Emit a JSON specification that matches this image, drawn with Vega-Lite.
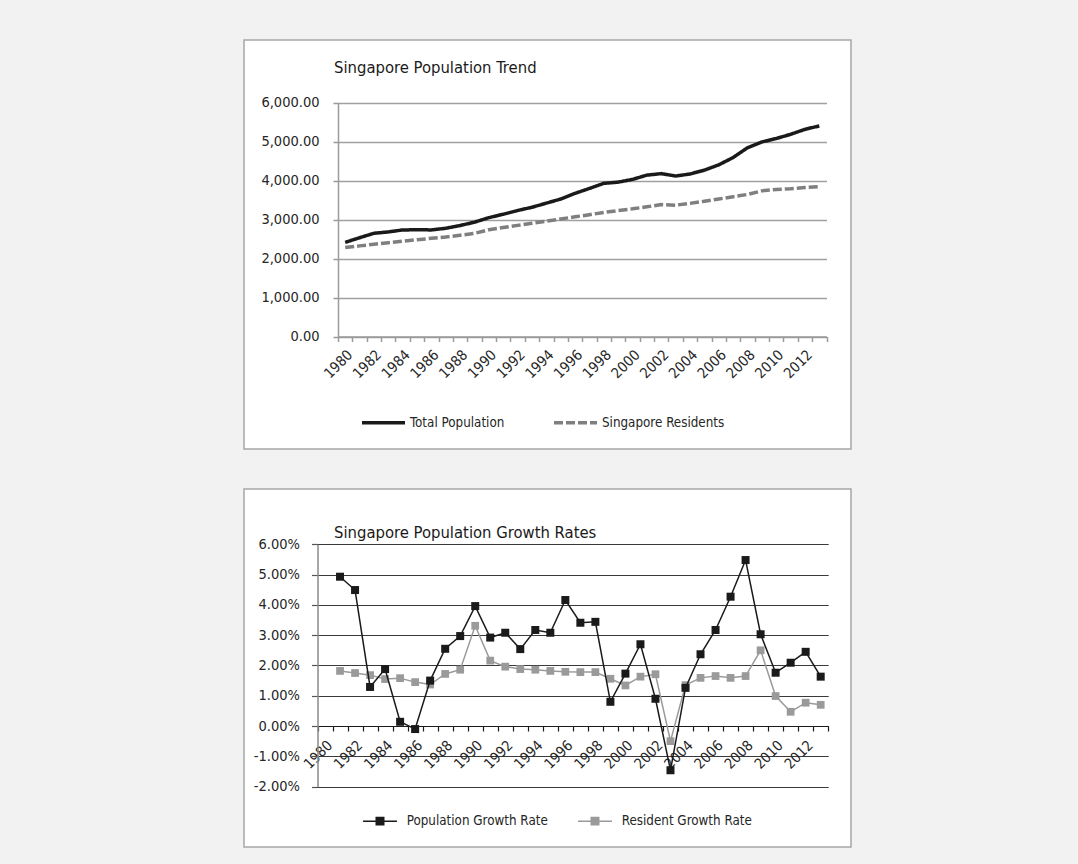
{
  "$schema": "https://vega.github.io/schema/vega-lite/v6.json",
  "background": "#f2f2f2",
  "padding": {"left": 242, "top": 39, "right": 228, "bottom": 16},
  "spacing": 38,
  "resolve": {"scale": {"color": "independent", "strokeDash": "independent", "x": "independent", "y": "independent"}, "legend": {"color": "independent", "strokeDash": "independent"}},
  "config": {
    "font": "DejaVu Sans Condensed",
    "axis": {"labelFont": "DejaVu Sans Condensed", "labelFontSize": 14.5, "labelColor": "#262626", "title": null},
    "legend": {"labelFont": "DejaVu Sans Condensed", "labelFontSize": 13.3, "labelColor": "#262626"},
    "title": {"font": "DejaVu Sans Condensed", "fontSize": 16.5, "fontWeight": "normal", "color": "#1a1a1a"}
  },
  "datasets": {
    "pop": [
      {"year": "1980", "series": "Total Population", "value": 2413.9},
      {"year": "1981", "series": "Total Population", "value": 2532.8},
      {"year": "1982", "series": "Total Population", "value": 2646.5},
      {"year": "1983", "series": "Total Population", "value": 2681.1},
      {"year": "1984", "series": "Total Population", "value": 2732.2},
      {"year": "1985", "series": "Total Population", "value": 2736.0},
      {"year": "1986", "series": "Total Population", "value": 2733.4},
      {"year": "1987", "series": "Total Population", "value": 2774.8},
      {"year": "1988", "series": "Total Population", "value": 2846.1},
      {"year": "1989", "series": "Total Population", "value": 2930.9},
      {"year": "1990", "series": "Total Population", "value": 3047.1},
      {"year": "1991", "series": "Total Population", "value": 3135.1},
      {"year": "1992", "series": "Total Population", "value": 3230.7},
      {"year": "1993", "series": "Total Population", "value": 3313.5},
      {"year": "1994", "series": "Total Population", "value": 3419.0},
      {"year": "1995", "series": "Total Population", "value": 3524.5},
      {"year": "1996", "series": "Total Population", "value": 3670.7},
      {"year": "1997", "series": "Total Population", "value": 3796.0},
      {"year": "1998", "series": "Total Population", "value": 3927.2},
      {"year": "1999", "series": "Total Population", "value": 3958.7},
      {"year": "2000", "series": "Total Population", "value": 4027.9},
      {"year": "2001", "series": "Total Population", "value": 4138.0},
      {"year": "2002", "series": "Total Population", "value": 4176.0},
      {"year": "2003", "series": "Total Population", "value": 4114.8},
      {"year": "2004", "series": "Total Population", "value": 4166.7},
      {"year": "2005", "series": "Total Population", "value": 4265.8},
      {"year": "2006", "series": "Total Population", "value": 4401.4},
      {"year": "2007", "series": "Total Population", "value": 4588.6},
      {"year": "2008", "series": "Total Population", "value": 4839.4},
      {"year": "2009", "series": "Total Population", "value": 4987.6},
      {"year": "2010", "series": "Total Population", "value": 5076.7},
      {"year": "2011", "series": "Total Population", "value": 5183.7},
      {"year": "2012", "series": "Total Population", "value": 5312.4},
      {"year": "2013", "series": "Total Population", "value": 5399.2},
      {"year": "1980", "series": "Singapore Residents", "value": 2282.1},
      {"year": "1981", "series": "Singapore Residents", "value": 2323.6},
      {"year": "1982", "series": "Singapore Residents", "value": 2364.5},
      {"year": "1983", "series": "Singapore Residents", "value": 2404.7},
      {"year": "1984", "series": "Singapore Residents", "value": 2442.2},
      {"year": "1985", "series": "Singapore Residents", "value": 2480.8},
      {"year": "1986", "series": "Singapore Residents", "value": 2517.0},
      {"year": "1987", "series": "Singapore Residents", "value": 2551.5},
      {"year": "1988", "series": "Singapore Residents", "value": 2595.9},
      {"year": "1989", "series": "Singapore Residents", "value": 2644.2},
      {"year": "1990", "series": "Singapore Residents", "value": 2735.9},
      {"year": "1991", "series": "Singapore Residents", "value": 2794.7},
      {"year": "1992", "series": "Singapore Residents", "value": 2849.7},
      {"year": "1993", "series": "Singapore Residents", "value": 2904.0},
      {"year": "1994", "series": "Singapore Residents", "value": 2958.0},
      {"year": "1995", "series": "Singapore Residents", "value": 3013.5},
      {"year": "1996", "series": "Singapore Residents", "value": 3068.1},
      {"year": "1997", "series": "Singapore Residents", "value": 3123.4},
      {"year": "1998", "series": "Singapore Residents", "value": 3180.0},
      {"year": "1999", "series": "Singapore Residents", "value": 3229.7},
      {"year": "2000", "series": "Singapore Residents", "value": 3273.4},
      {"year": "2001", "series": "Singapore Residents", "value": 3325.9},
      {"year": "2002", "series": "Singapore Residents", "value": 3382.9},
      {"year": "2003", "series": "Singapore Residents", "value": 3366.9},
      {"year": "2004", "series": "Singapore Residents", "value": 3413.3},
      {"year": "2005", "series": "Singapore Residents", "value": 3467.8},
      {"year": "2006", "series": "Singapore Residents", "value": 3525.9},
      {"year": "2007", "series": "Singapore Residents", "value": 3583.1},
      {"year": "2008", "series": "Singapore Residents", "value": 3642.7},
      {"year": "2009", "series": "Singapore Residents", "value": 3733.9},
      {"year": "2010", "series": "Singapore Residents", "value": 3771.7},
      {"year": "2011", "series": "Singapore Residents", "value": 3789.3},
      {"year": "2012", "series": "Singapore Residents", "value": 3818.2},
      {"year": "2013", "series": "Singapore Residents", "value": 3844.8}
    ],
    "growth": [
      {"year": "1981", "series": "Population Growth Rate", "value": 4.93},
      {"year": "1982", "series": "Population Growth Rate", "value": 4.49},
      {"year": "1983", "series": "Population Growth Rate", "value": 1.29},
      {"year": "1984", "series": "Population Growth Rate", "value": 1.88},
      {"year": "1985", "series": "Population Growth Rate", "value": 0.14},
      {"year": "1986", "series": "Population Growth Rate", "value": -0.1},
      {"year": "1987", "series": "Population Growth Rate", "value": 1.5},
      {"year": "1988", "series": "Population Growth Rate", "value": 2.55},
      {"year": "1989", "series": "Population Growth Rate", "value": 2.97},
      {"year": "1990", "series": "Population Growth Rate", "value": 3.96},
      {"year": "1991", "series": "Population Growth Rate", "value": 2.92},
      {"year": "1992", "series": "Population Growth Rate", "value": 3.08},
      {"year": "1993", "series": "Population Growth Rate", "value": 2.54},
      {"year": "1994", "series": "Population Growth Rate", "value": 3.17},
      {"year": "1995", "series": "Population Growth Rate", "value": 3.08},
      {"year": "1996", "series": "Population Growth Rate", "value": 4.16},
      {"year": "1997", "series": "Population Growth Rate", "value": 3.41},
      {"year": "1998", "series": "Population Growth Rate", "value": 3.44},
      {"year": "1999", "series": "Population Growth Rate", "value": 0.8},
      {"year": "2000", "series": "Population Growth Rate", "value": 1.73},
      {"year": "2001", "series": "Population Growth Rate", "value": 2.7},
      {"year": "2002", "series": "Population Growth Rate", "value": 0.9},
      {"year": "2003", "series": "Population Growth Rate", "value": -1.46},
      {"year": "2004", "series": "Population Growth Rate", "value": 1.26},
      {"year": "2005", "series": "Population Growth Rate", "value": 2.37},
      {"year": "2006", "series": "Population Growth Rate", "value": 3.17},
      {"year": "2007", "series": "Population Growth Rate", "value": 4.27},
      {"year": "2008", "series": "Population Growth Rate", "value": 5.48},
      {"year": "2009", "series": "Population Growth Rate", "value": 3.03},
      {"year": "2010", "series": "Population Growth Rate", "value": 1.76},
      {"year": "2011", "series": "Population Growth Rate", "value": 2.09},
      {"year": "2012", "series": "Population Growth Rate", "value": 2.45},
      {"year": "2013", "series": "Population Growth Rate", "value": 1.63},
      {"year": "1981", "series": "Resident Growth Rate", "value": 1.82},
      {"year": "1982", "series": "Resident Growth Rate", "value": 1.75},
      {"year": "1983", "series": "Resident Growth Rate", "value": 1.68},
      {"year": "1984", "series": "Resident Growth Rate", "value": 1.55},
      {"year": "1985", "series": "Resident Growth Rate", "value": 1.58},
      {"year": "1986", "series": "Resident Growth Rate", "value": 1.45},
      {"year": "1987", "series": "Resident Growth Rate", "value": 1.37},
      {"year": "1988", "series": "Resident Growth Rate", "value": 1.72},
      {"year": "1989", "series": "Resident Growth Rate", "value": 1.86},
      {"year": "1990", "series": "Resident Growth Rate", "value": 3.31},
      {"year": "1991", "series": "Resident Growth Rate", "value": 2.16},
      {"year": "1992", "series": "Resident Growth Rate", "value": 1.96},
      {"year": "1993", "series": "Resident Growth Rate", "value": 1.88},
      {"year": "1994", "series": "Resident Growth Rate", "value": 1.86},
      {"year": "1995", "series": "Resident Growth Rate", "value": 1.82},
      {"year": "1996", "series": "Resident Growth Rate", "value": 1.79},
      {"year": "1997", "series": "Resident Growth Rate", "value": 1.78},
      {"year": "1998", "series": "Resident Growth Rate", "value": 1.78},
      {"year": "1999", "series": "Resident Growth Rate", "value": 1.56},
      {"year": "2000", "series": "Resident Growth Rate", "value": 1.34},
      {"year": "2001", "series": "Resident Growth Rate", "value": 1.63},
      {"year": "2002", "series": "Resident Growth Rate", "value": 1.71},
      {"year": "2003", "series": "Resident Growth Rate", "value": -0.5},
      {"year": "2004", "series": "Resident Growth Rate", "value": 1.35},
      {"year": "2005", "series": "Resident Growth Rate", "value": 1.59},
      {"year": "2006", "series": "Resident Growth Rate", "value": 1.65},
      {"year": "2007", "series": "Resident Growth Rate", "value": 1.59},
      {"year": "2008", "series": "Resident Growth Rate", "value": 1.65},
      {"year": "2009", "series": "Resident Growth Rate", "value": 2.5},
      {"year": "2010", "series": "Resident Growth Rate", "value": 0.99},
      {"year": "2011", "series": "Resident Growth Rate", "value": 0.47},
      {"year": "2012", "series": "Resident Growth Rate", "value": 0.77},
      {"year": "2013", "series": "Resident Growth Rate", "value": 0.7}
    ]
  },
  "vconcat": [
    {
      "width": 607,
      "height": 409,
      "view": {"fill": "white", "stroke": "#a6a6a6", "strokeWidth": 1.5},
      "title": {"text": "Singapore Population Trend", "anchor": "start", "frame": "group", "offset": -36, "dx": 90},
      "data": {"name": "pop"},
      "mark": {"type": "line", "strokeWidth": 3.5},
      "encoding": {
        "x": {
          "field": "year", "type": "ordinal", "bandPosition": 0.5,
          "scale": {"type": "band", "paddingInner": 0, "paddingOuter": 0, "range": [94, 582.5]},
          "axis": {"tickBand": "extent", "labelAngle": -45, "labelOverlap": false, "labelExpr": "toNumber(datum.value) % 2 == 0 ? datum.label : ''", "offset": -112.5, "domainColor": "#9a9a9a", "domainWidth": 1.5, "tickColor": "#9a9a9a", "tickWidth": 1.5, "tickSize": 5, "grid": false, "labelPadding": 6}
        },
        "y": {
          "field": "value", "type": "quantitative",
          "scale": {"domain": [0, 6000], "range": [296.5, 62.5], "nice": false},
          "axis": {"values": [0, 1000, 2000, 3000, 4000, 5000, 6000], "format": ",.2f", "offset": -94, "grid": true, "gridColor": "#a0a0a0", "gridWidth": 1.5, "domainColor": "#9a9a9a", "domainWidth": 1.5, "tickColor": "#9a9a9a", "tickWidth": 1.5, "tickSize": 5, "labelPadding": 14}
        },
        "color": {
          "field": "series", "type": "nominal",
          "scale": {"domain": ["Total Population", "Singapore Residents"], "range": ["#1a1a1a", "#7f7f7f"]},
          "legend": {"title": null, "orient": "none", "legendX": 116, "legendY": 359, "direction": "horizontal", "symbolType": "stroke", "symbolSize": 1849, "symbolStrokeWidth": 3.5, "labelOffset": 3, "columnPadding": 42}
        },
        "strokeDash": {
          "field": "series", "type": "nominal",
          "scale": {"domain": ["Total Population", "Singapore Residents"], "range": [[1, 0], [9, 3]]},
          "legend": {"title": null, "orient": "none", "legendX": 116, "legendY": 359, "direction": "horizontal", "symbolType": "stroke", "symbolSize": 1849, "symbolStrokeWidth": 3.5, "labelOffset": 3, "columnPadding": 42}
        }
      }
    },
    {
      "width": 607,
      "height": 358,
      "view": {"fill": "white", "stroke": "#a6a6a6", "strokeWidth": 1.5},
      "title": {"text": "Singapore Population Growth Rates", "anchor": "start", "frame": "group", "offset": -52, "dx": 90},
      "data": {"name": "growth"},
      "encoding": {
        "x": {
          "field": "year", "type": "ordinal", "bandPosition": 0.5,
          "scale": {"type": "band", "paddingInner": 0, "paddingOuter": 0, "range": [73.5, 584.2],
            "domain": ["1980","1981","1982","1983","1984","1985","1986","1987","1988","1989","1990","1991","1992","1993","1994","1995","1996","1997","1998","1999","2000","2001","2002","2003","2004","2005","2006","2007","2008","2009","2010","2011","2012","2013"]},
          "axis": {"tickBand": "extent", "labelAngle": -45, "labelOverlap": false, "labelExpr": "toNumber(datum.value) % 2 == 0 ? datum.label : ''", "offset": -121, "domainColor": "#1a1a1a", "domainWidth": 1.2, "tickColor": "#1a1a1a", "tickWidth": 1.2, "tickSize": 5, "grid": false, "labelPadding": 7}
        },
        "y": {
          "field": "value", "type": "quantitative",
          "scale": {"domain": [-2, 6], "range": [297.6, 55.3], "nice": false},
          "axis": {"values": [-2, -1, 0, 1, 2, 3, 4, 5, 6], "labelExpr": "replace(format(datum.value, '.2f'), '\u2212', '-') + '%'", "offset": -73.5, "grid": true, "gridColor": "#3a3a3a", "gridWidth": 1.2, "domainColor": "#8a8a8a", "domainWidth": 1.5, "tickColor": "#555555", "tickWidth": 1.2, "tickSize": 6, "labelPadding": 12}
        },
        "color": {
          "field": "series", "type": "nominal",
          "scale": {"domain": ["Population Growth Rate", "Resident Growth Rate"], "range": ["#1a1a1a", "#9a9a9a"]},
          "legend": {"title": null, "orient": "none", "legendX": 118, "legendY": 314, "direction": "horizontal", "symbolType": "M-1,0H1M-0.22,-0.22H0.22V0.22H-0.22Z", "symbolSize": 1156, "symbolStrokeWidth": 1.5, "labelOffset": 8.7, "columnPadding": 27}
        }
      },
      "layer": [
        {"transform": [{"filter": "datum.series == 'Resident Growth Rate'"}], "mark": {"type": "line", "strokeWidth": 1.5}},
        {"transform": [{"filter": "datum.series == 'Resident Growth Rate'"}], "mark": {"type": "point", "shape": "square", "filled": true, "size": 60, "opacity": 1}},
        {"transform": [{"filter": "datum.series == 'Population Growth Rate'"}], "mark": {"type": "line", "strokeWidth": 1.5}},
        {"transform": [{"filter": "datum.series == 'Population Growth Rate'"}], "mark": {"type": "point", "shape": "square", "filled": true, "size": 64, "opacity": 1}}
      ]
    }
  ]
}
